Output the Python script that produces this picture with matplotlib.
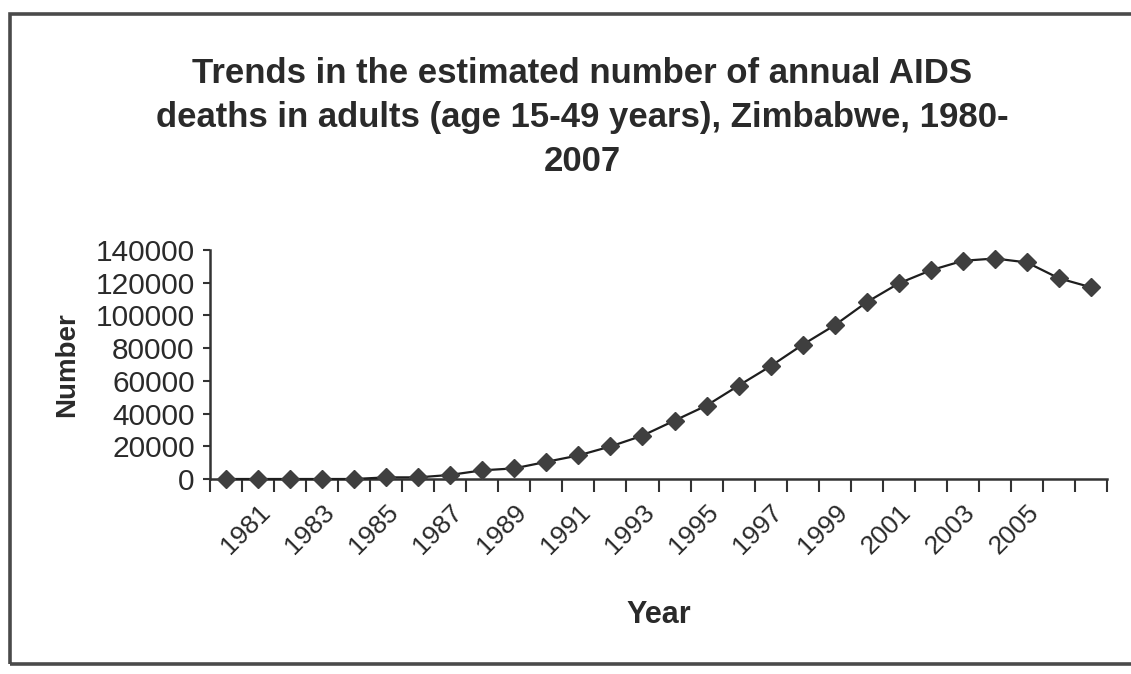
import matplotlib
matplotlib.use("Agg")
import matplotlib.pyplot as plt
from matplotlib.patches import Rectangle

plt.rcParams['font.family'] = ['Liberation Sans', 'DejaVu Sans']

# Estimated annual AIDS deaths in adults aged 15-49, Zimbabwe
years = list(range(1980, 2008))
deaths = [0, 0, 0, 0, 0, 1000, 1000, 2500, 5300, 6500, 10500, 14400,
          19900, 26500, 35700, 44900, 57100, 69000, 82100, 94000,
          108100, 119600, 127600, 133400, 134800, 132400, 122700, 117200]
y_ticks = [0, 20000, 40000, 60000, 80000, 100000, 120000, 140000]
x_labels = [str(y) for y in range(1981, 2006, 2)]

title = ("Trends in the estimated number of annual AIDS\n"
         "deaths in adults (age 15-49 years), Zimbabwe, 1980-\n2007")

fig = plt.figure(figsize=(11.31, 6.74), dpi=100)
W, H = 1131, 674

# outer chart frame
fig.patches.append(Rectangle((10 / W, 1 - 664 / H), 1.2, (664 - 14) / H,
                             transform=fig.transFigure, fill=False,
                             edgecolor='#4a4a4a', linewidth=2.6))

ax = fig.add_axes([210 / W, 1 - 479 / H, (1107 - 210) / W, (479 - 250) / H])
idx = list(range(len(years)))
ax.plot(idx, deaths, color='#1e1e1e', linewidth=1.6, marker='D',
        markersize=9.5, markerfacecolor='#3f3f3f', markeredgecolor='#3f3f3f',
        clip_on=False, zorder=3)

ax.set_xlim(-0.5, len(years) - 0.5)
ax.set_ylim(0, 140000)
ax.set_yticks(y_ticks)
ax.set_yticklabels([str(v) for v in y_ticks], fontsize=21.5, color='#2a2a2a')

# category-style ticks between years, labels on every other year
ax.set_xticks([i - 0.5 for i in range(len(years) + 1)])
ax.set_xticklabels([])
ax.set_xticks([years.index(int(l)) for l in x_labels], minor=True)
ax.set_xticklabels(x_labels, minor=True, rotation=45, ha='right',
                   va='top', rotation_mode='anchor', fontsize=19,
                   color='#2a2a2a')
ax.tick_params(axis='x', which='minor', length=0, pad=15)
ax.tick_params(axis='x', which='major', length=9, width=1.5,
               direction='out', color='#333333')
ax.tick_params(axis='y', length=5, width=1.5, direction='out',
               color='#333333', pad=6)

for s in ['top', 'right']:
    ax.spines[s].set_visible(False)
for s in ['left', 'bottom']:
    ax.spines[s].set_color('#333333')
    ax.spines[s].set_linewidth(1.8)

ax.set_xlabel('Year', fontsize=22, fontweight='bold', color='#2a2a2a',
              labelpad=30)
ax.set_ylabel('Number', fontsize=20, fontweight='bold', color='#2a2a2a',
              labelpad=11)

fig.text(582 / W, 1 - 57 / H, title, ha='center', va='top', fontsize=25,
         fontweight='bold', color='#2a2a2a', linespacing=1.42)

fig.savefig('out.png', dpi=100)
